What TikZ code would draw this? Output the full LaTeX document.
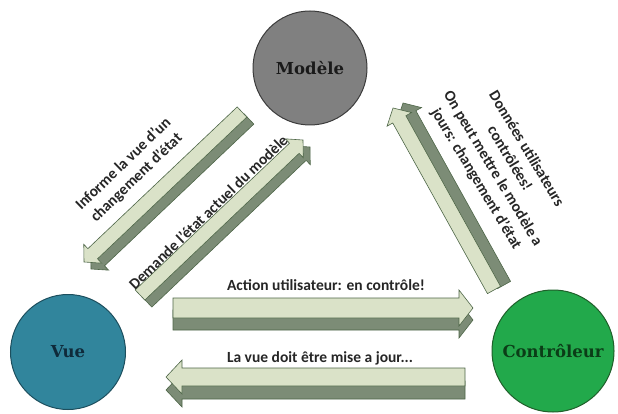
\documentclass[tikz,border=0pt]{standalone}
\usepackage{fontspec}
\setmainfont{Carlito}
\newfontfamily\circfont{DejaVu Serif}
\usetikzlibrary{calc}
\definecolor{lightface}{HTML}{DAE2C8}
\definecolor{darkface}{HTML}{7C8C76}
\definecolor{edgecol}{HTML}{4E6648}
\definecolor{modfill}{HTML}{808080}
\definecolor{modedge}{HTML}{3C3C3C}
\definecolor{vuefill}{HTML}{31859C}
\definecolor{vueedge}{HTML}{1D4F5E}
\definecolor{ctlfill}{HTML}{22A94B}
\definecolor{ctledge}{HTML}{1F5F2A}
\definecolor{modtext}{HTML}{1A1A1A}
\definecolor{vuetext}{HTML}{0F2A3A}
\definecolor{ctltext}{HTML}{0B3D17}
\definecolor{lbltext}{HTML}{262626}
\tikzset{
  lightpart/.style={fill=lightface, draw=edgecol, line width=0.6pt, line join=miter},
  darkpart/.style={fill=darkface, draw=edgecol, line width=0.6pt, line join=miter},
  circlabel/.style={circle, line width=1pt, inner sep=0pt,
    font=\circfont\bfseries\fontsize{16.5}{19}\selectfont},
  lbl/.style={font=\bfseries\fontsize{15.5}{19}\selectfont, text=lbltext, align=center, inner sep=0pt},
}
\newcommand\blkpath[4]{($(#1)!#3!90:(#2)$) -- ($(hb)!#3!90:(#2)$) -- ($(hb)!#4!90:(#2)$) -- (#2) -- ($(hb)!#4!-90:(#2)$) -- ($(hb)!#3!-90:(#2)$) -- ($(#1)!#3!-90:(#2)$) -- cycle}
\newcommand\blkarrow[6]{%
  \coordinate (hb) at ($(#2)!#5!(#1)$);
  \begin{scope}[transform canvas={shift={#6}}]
    \filldraw[darkpart] \blkpath{#1}{#2}{#3}{#4};
  \end{scope}
  \filldraw[lightpart] \blkpath{#1}{#2}{#3}{#4};
}
\begin{document}
\begin{tikzpicture}[x=1pt,y=-1pt]
\useasboundingbox (0,0) rectangle (618,414);
% circles
\node[circlabel, minimum size=114pt, fill=modfill, draw=modedge, text=modtext] (modele) at (310,68) {Modèle};
\node[circlabel, minimum size=115pt, fill=vuefill, draw=vueedge, text=vuetext] (vue) at (68,352) {Vue};
\node[circlabel, minimum size=122pt, fill=ctlfill, draw=ctledge, text=ctltext] (ctl) at (553,351) {Contrôleur};
% arrow end points
\coordinate (a1s) at (173,308); \coordinate (a1e) at (473,308);
\coordinate (a2s) at (465,377); \coordinate (a2e) at (166,377);
\coordinate (a3s) at (242,112); \coordinate (a3e) at (84,262);
\coordinate (a4s) at (140,295); \coordinate (a4e) at (303,140);
\coordinate (a5s) at (494,290); \coordinate (a5e) at (393,108);
\blkarrow{a1s}{a1e}{10pt}{18pt}{14pt}{(0,12)}
\blkarrow{a2s}{a2e}{9pt}{17pt}{16pt}{(0,13)}
\blkarrow{a3s}{a3e}{7pt}{13pt}{12pt}{(7,7)}
\blkarrow{a4s}{a4e}{7pt}{13pt}{12pt}{(7,7)}
\blkarrow{a5s}{a5e}{7.5pt}{14pt}{13pt}{(10,-5)}
% labels
\node[lbl] (t1) at (326,285) {Action utilisateur: en contrôle!};
\node[lbl] (t2) at (320,358) {La vue doit être mise a jour...};
\node[lbl, rotate=44] (t3) at (130,171) {Informe la vue d’un\\changement d’état};
\node[lbl, rotate=44] (t4) at (208,212) {Demande l’état actuel du modèle};
\node[lbl, rotate=-59, font=\bfseries\fontsize{15.5}{19.5}\selectfont] (t5) at (501,164) {Données utilisateurs\\contrôlées!\\On peut mettre le modèle a\\jours: changement d’état};
\end{tikzpicture}
\end{document}
